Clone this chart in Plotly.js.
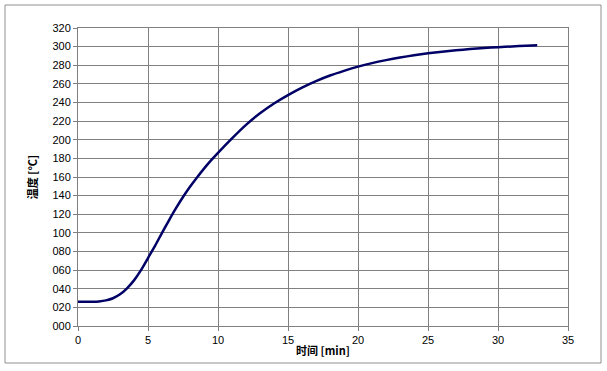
<!DOCTYPE html>
<html><head><meta charset="utf-8">
<script src="https://cdn.plot.ly/plotly-3.0.1.min.js"></script>
<style>html,body{margin:0;padding:0;background:#fff}#c{width:607px;height:371px}</style>
</head><body><div id="c"></div>
<script>
const timeMin = [0,1,1.5,2,2.5,3,3.5,4,4.5,5,5.5,6,6.5,7,7.5,8,8.5,9,9.5,10,11,12,13,14,15,16,17,18,19,20,21,22,23,24,25,26,27,28,29,30,31,32,32.8];
const tempC   = [26,26,26.4,27.5,29.8,34,40.5,49,60,73,86,100,113.5,126.5,138.5,149.5,159.5,169,177.8,186,201.5,216,228.5,239,248,256,263,269,274,278.5,282.3,285.5,288.3,290.7,292.8,294.6,296.1,297.4,298.5,299.4,300.2,300.9,301.5];
const yTickVals = [0,20,40,60,80,100,120,140,160,180,200,220,240,260,280,300,320];
const yTickText = ["000","020","040","060","080","100","120","140","160","180","200","220","240","260","280","300","320"];
const xTickVals = [0,5,10,15,20,25,30,35];
const xTitle = "时间 [min]";
const yTitle = "温度 [°C]";

const L=78,R=568,T=28,B=326;
const px=v=>(v-L)/(R-L), py=v=>(B-v)/(B-T);
Plotly.newPlot('c',[{
  x:timeMin,y:tempC,mode:'lines',type:'scatter',
  line:{color:'#000066',width:2.5,shape:'spline',smoothing:0.7},hoverinfo:'none'
}],{
  width:607,height:371,
  margin:{l:L,r:607-R,t:T,b:371-B},
  paper_bgcolor:'#fff',plot_bgcolor:'#fff',showlegend:false,
  font:{family:'Liberation Sans, Arial, sans-serif',size:11,color:'#000'},
  xaxis:{range:[0,35],tickvals:xTickVals,ticks:'outside',ticklen:4,tickcolor:'#808080',
    showgrid:true,gridcolor:'#808080',gridwidth:1,zeroline:false,
    showline:true,linecolor:'#808080',mirror:true,
    title:{text:xTitle,font:{family:'Noto Sans CJK SC, Liberation Sans',size:11,weight:'bold'},standoff:2}},
  yaxis:{range:[0,320],tickvals:yTickVals,ticktext:yTickText,ticks:'outside',ticklen:4,tickcolor:'#808080',
    showgrid:true,gridcolor:'#808080',gridwidth:1,zeroline:false,
    showline:true,linecolor:'#808080',mirror:true,
    title:{text:yTitle,font:{family:'Noto Sans CJK SC, Liberation Sans',size:11,weight:'bold'},standoff:12}},
  shapes:[{type:'rect',xref:'paper',yref:'paper',x0:px(5),x1:px(601),y0:py(363),y1:py(5),
    line:{color:'#909090',width:1},fillcolor:'rgba(0,0,0,0)',layer:'below'}]
},{staticPlot:true});
</script></body></html>
